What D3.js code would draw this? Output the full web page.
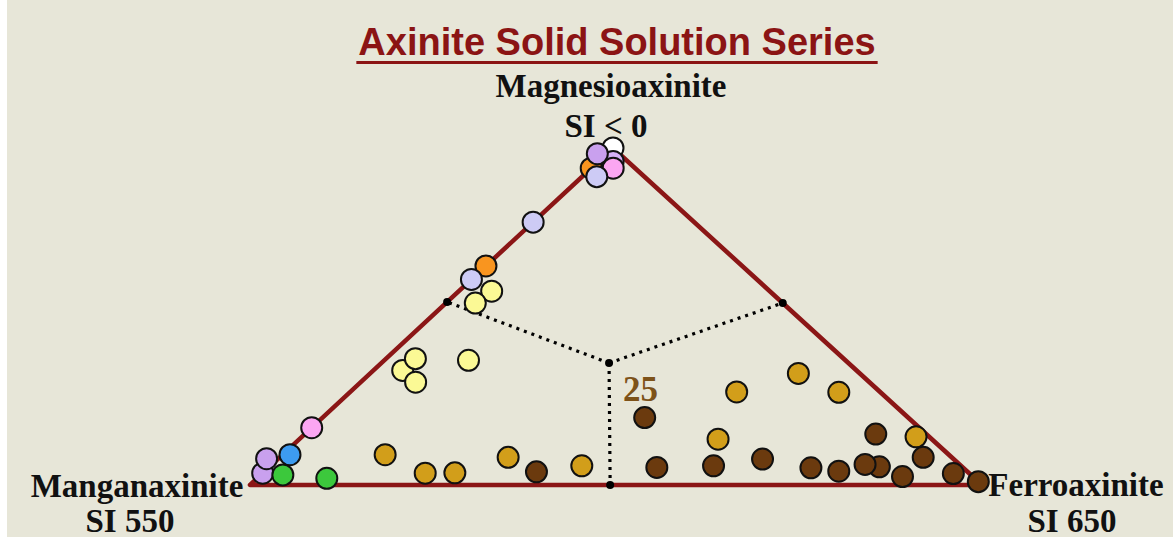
<!DOCTYPE html>
<html>
<head>
<meta charset="utf-8">
<script src="https://cdn.jsdelivr.net/npm/d3@7"></script>
<style>
  html, body { margin: 0; padding: 0; background: #ffffff; }
  #chart { width: 1173px; height: 539px; }
  .vertex-label { font-family: "Liberation Serif", "DejaVu Serif", serif; font-weight: bold; fill: #111; }
</style>
</head>
<body>
<div id="chart"></div>
<script>
/* global d3 */

// colour groups of the samples
const groups = ["white", "purple", "lavender", "periwinkle", "pink", "orange",
    "yellow", "blue", "green", "gold", "brown"];
const groupColors = ["#ffffff", "#c9a0ee", "#d6b2f7", "#cdcbf5", "#fba6f2", "#f9951f",
    "#fbf995", "#3d9bf0", "#3cc83c", "#d29e1a", "#6b3a0e"];

// samples in drawing order: Mn, Fe, Mg end-member percentages
const pointGroup = [
    "white", "orange", "lavender", "purple", "pink", "periwinkle",
    "periwinkle", "orange", "periwinkle", "yellow", "yellow",
    "yellow", "yellow", "yellow", "yellow",
    "pink", "purple", "purple", "blue", "green", "green",
    "gold", "gold", "gold", "gold", "brown", "gold",
    "brown", "gold", "gold", "gold", "gold",
    "brown", "brown", "brown", "brown", "brown", "brown", "brown", "brown",
    "brown", "gold", "brown", "brown", "brown"
];
const pointMn = [
    0, 6, 2, 3, 3, 6.5,
    22, 35, 39, 38, 42,
    62, 58.5, 62, 51.5,
    83, 96.5, 93.8, 90, 94, 88.5,
    77, 74.3, 70.2, 60.6, 58.9, 51.8,
    36, 19.6, 8.4, 5.7, 29.2,
    41.8, 33.8, 26.1, 20.8, 17.5, 11.3, 12.9, 6.9,
    3.9, 1.8, 9.6, 2.2, 0
];
const pointFe = [
    0, 0, 2, -1.3, 3, 2,
    0, 0, 0, 4.5, 4,
    4, 4, 7.5, 11.5,
    0, 0, -1.6, 1, 3, 9.5,
    14, 22.2, 26.2, 31.2, 37.2, 42.5,
    44, 52.8, 58.5, 66.8, 57.2,
    53, 60.5, 66.2, 74.1, 78.4, 83.3, 81, 78,
    87.9, 83.9, 87.9, 94.4, 99
];
const pointMg = [
    100, 94, 96, 98.3, 94, 91.5,
    78, 65, 61, 57.5, 54,
    34, 37.5, 30.5, 37,
    17, 3.5, 7.8, 9, 3, 2,
    9, 3.5, 3.6, 8.2, 3.9, 5.7,
    20, 27.6, 33.1, 27.5, 13.6,
    5.2, 5.7, 7.7, 5.1, 4.1, 5.4, 6.1, 15.1,
    8.2, 14.3, 2.5, 3.4, 1
];

// field boundaries: left edge, right edge, bottom edge, meeting point
const dividerMn = [45.7, 0, 50.8, 32.7];
const dividerFe = [0, 46, 49.2, 31.1];
const dividerMg = [54.3, 54, 0, 36.2];

const vertexNames = ["Manganaxinite", "Ferroaxinite", "Magnesioaxinite"];
const vertexSI = ["SI 550", "SI 650", "SI < 0"];
const chartTitle = "Axinite Solid Solution Series";
const countLabel = "25";

function ternaryChart(id) {
    const width = 1173;
    const height = 539;
    const corner = ({left: 250, right: 982, bottom: 485, top: 148, apex: 613});
    const skew = (corner.apex - corner.left) / (corner.right - corner.left);

    const x = d3.scaleLinear().domain([0, 1]).range([corner.left, corner.right]);
    const y = d3.scaleLinear().domain([0, 1]).range([corner.bottom, corner.top]);
    const color = d3.scaleOrdinal().domain(groups).range(groupColors);

    const project = (mn, fe, mg) => {
        const total = mn + fe + mg;
        const f = fe / total;
        const m = mg / total;
        return [x(f + m * skew), y(m)];
    };

    const points = pointGroup.map((g, i) => ({
        group: g,
        pos: project(pointMn[i], pointFe[i], pointMg[i])
    }));
    const dividers = dividerMn.map((v, i) => project(v, dividerFe[i], dividerMg[i]));

    const svg = d3.select('#' + id).append('svg')
        .attr("width", width)
        .attr("height", height)
        .attr("viewBox", [0, 0, width, height]);

    svg.append("rect")
        .attr("x", 7)
        .attr("y", 0)
        .attr("width", width - 7)
        .attr("height", height - 2)
        .attr("fill", "#e7e6d8");

    // triangle outline
    const vertices = [project(100, 0, 0), project(0, 100, 0), project(0, 0, 100)];
    svg.append("path")
        .attr("d", d3.line()(vertices) + "Z")
        .attr("fill", "none")
        .attr("stroke", "#8b1616")
        .attr("stroke-width", 4.5)
        .attr("stroke-linejoin", "round");

    // dotted field boundaries from the meeting point
    const centre = dividers[3];
    svg.append("g")
        .selectAll("line")
        .data(dividers.slice(0, 3))
        .join("line")
        .attr("x1", centre[0])
        .attr("y1", centre[1])
        .attr("x2", d => d[0])
        .attr("y2", d => d[1])
        .attr("stroke", "#000")
        .attr("stroke-width", 3.2)
        .attr("stroke-dasharray", "3,5");

    svg.append("g")
        .selectAll("circle")
        .data(dividers)
        .join("circle")
        .attr("cx", d => d[0])
        .attr("cy", d => d[1])
        .attr("r", 4)
        .attr("fill", "#000");

    svg.append("text")
        .attr("x", centre[0] + 14)
        .attr("y", centre[1] + 38)
        .attr("font-family", "Liberation Serif, serif")
        .attr("font-weight", "bold")
        .attr("font-size", 35)
        .attr("fill", "#7d5219")
        .text(countLabel);

    // samples
    svg.append("g")
        .selectAll("circle")
        .data(points)
        .join("circle")
        .attr("cx", d => d.pos[0])
        .attr("cy", d => d.pos[1])
        .attr("r", 10.5)
        .attr("fill", d => color(d.group))
        .attr("stroke", "#111")
        .attr("stroke-width", 2);

    // title with underline
    const title = svg.append("text")
        .attr("x", 617)
        .attr("y", 55)
        .attr("text-anchor", "middle")
        .attr("font-family", "Liberation Sans, Arial, sans-serif")
        .attr("font-weight", "bold")
        .attr("font-size", 38)
        .attr("fill", "#8b1414")
        .text(chartTitle);
    const tw = title.node().getComputedTextLength();
    svg.append("rect")
        .attr("x", 617 - tw / 2 - 2)
        .attr("y", 61)
        .attr("width", tw + 4)
        .attr("height", 3)
        .attr("fill", "#8b1414");

    // vertex labels
    const labelPos = [[137, 497, 130, 532], [1076, 496, 1072, 532], [611, 97, 606, 137]];
    labelPos.forEach((p, i) => {
        svg.append("text")
            .attr("class", "vertex-label")
            .attr("x", p[0])
            .attr("y", p[1])
            .attr("text-anchor", "middle")
            .attr("font-size", 33)
            .text(vertexNames[i]);
        svg.append("text")
            .attr("class", "vertex-label")
            .attr("x", p[2])
            .attr("y", p[3])
            .attr("text-anchor", "middle")
            .attr("font-size", 33)
            .text(vertexSI[i]);
    });
}

ternaryChart("chart");
</script>
</body>
</html>
